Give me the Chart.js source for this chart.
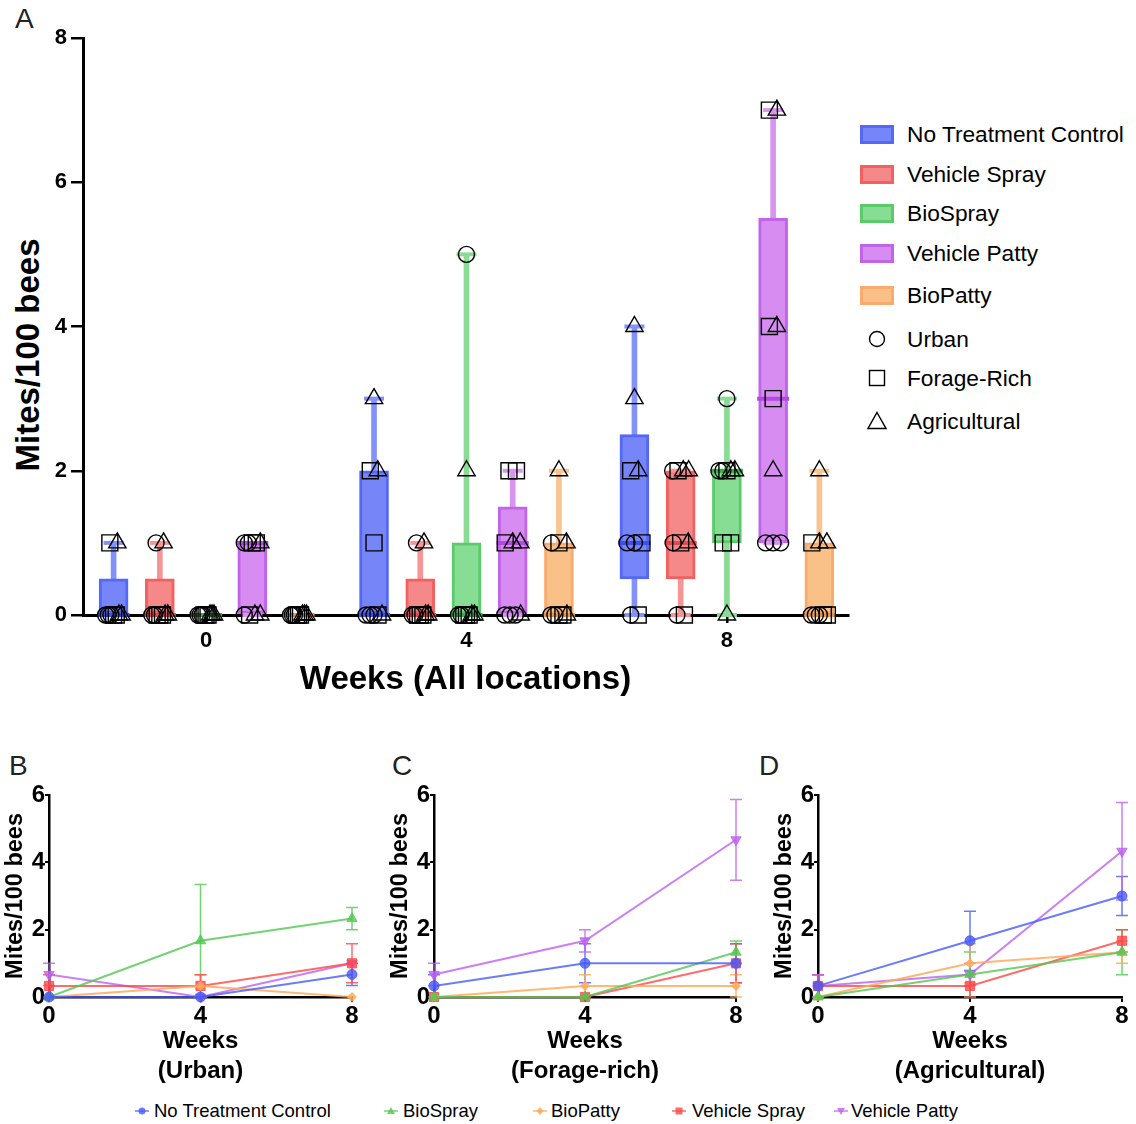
<!DOCTYPE html>
<html>
<head>
<meta charset="utf-8">
<script src="https://cdn.jsdelivr.net/npm/chart.js@4.4.1/dist/chart.umd.min.js"></script>
<style>
  html,body{margin:0;padding:0;background:#fff;}
  body{width:1136px;height:1124px;position:relative;overflow:hidden;font-family:"Liberation Sans",Arial,Helvetica,sans-serif;color:#000;}
  canvas{position:absolute;}
  .panel{position:absolute;font-size:28px;line-height:1;color:#222;}
  .ytitle{position:absolute;font-weight:bold;font-size:33px;white-space:nowrap;transform:translate(-50%,-50%) rotate(-90deg);line-height:1;}
  .abs{position:absolute;white-space:nowrap;line-height:1;}
</style>
</head>
<body>
<div class="panel" style="left:15px;top:5px">A</div>
<div class="panel" style="left:9px;top:752px">B</div>
<div class="panel" style="left:392px;top:752px">C</div>
<div class="panel" style="left:759px;top:752px">D</div>
<div class="ytitle" style="left:27px;top:355px">Mites/100 bees</div>
<canvas id="chartA" width="850" height="705" style="left:0;top:0"></canvas>
<canvas id="chartB" width="372" height="310" style="left:0;top:780px"></canvas>
<canvas id="chartC" width="372" height="310" style="left:385px;top:780px"></canvas>
<canvas id="chartD" width="367" height="310" style="left:769px;top:780px"></canvas>
<div id="legends"></div>
<script>
// ---------------- DATA ----------------
const weeks = [0, 4, 8];
const treatments = ['No Treatment Control', 'Vehicle Spray', 'BioSpray', 'Vehicle Patty', 'BioPatty'];
const locations = ['Urban', 'Forage-Rich', 'Agricultural'];
const locationTitles = ['(Urban)', '(Forage-rich)', '(Agricultural)'];

// Panel A box statistics: rows = treatments, columns = weeks 0, 4, 8
const boxMin    = [[0,0,0],[0,0,0],[0,0,0],[0,0,1],[0,0,0]];
const boxQ1     = [[0,0,0.5],[0,0,0.5],[0,0,1],[0,0,1],[0,0,0]];
const boxMedian = [[0,0,1],[0,0,1],[0,0,2],[1,1,3],[0,0,0]];
const boxQ3     = [[0.5,2,2.5],[0.5,0.5,2],[0,1,2],[1,1.5,5.5],[0,1,1]];
const boxMax    = [[1,3,4],[1,1,2],[0,5,3],[1,2,7],[0,2,2]];

// Individual colony counts [treatment][week][colony]
const urbanPoints = [
  [[0,0,0],[0,0,0],[1,1,0]],
  [[1,0,0],[1,0,0],[2,1,0]],
  [[0,0,0],[5,0,0],[3,2,2]],
  [[1,1,0],[0,0,0],[1,1,1]],
  [[0,0,0],[1,0,0],[0,0,0]]
];
const foragePoints = [
  [[1,0,0],[2,1,0],[2,1,0]],
  [[0,0,0],[0,0,0],[2,1,0]],
  [[0,0,0],[0,0,0],[2,1,1]],
  [[1,1,0],[2,2,1],[7,4,3]],
  [[0,0,0],[1,0,0],[1,0,0]]
];
const agriPoints = [
  [[1,0,0],[3,2,0],[4,3,2]],
  [[1,0,0],[1,0,0],[2,2,1]],
  [[0,0,0],[2,0,0],[2,2,0]],
  [[1,0,0],[1,1,0],[7,4,2]],
  [[0,0,0],[2,1,0],[2,1,1]]
];

// Panels B-D: mean and SEM, rows = treatments, columns = weeks
const urbanMean  = [[0,0,0.67],[0.33,0.33,1],[0,1.67,2.33],[0.67,0,1],[0,0.33,0]];
const urbanSem   = [[0,0,0.33],[0.33,0.33,0.58],[0,1.67,0.33],[0.33,0,0],[0,0.33,0]];
const forageMean = [[0.33,1,1],[0,0,1],[0,0,1.33],[0.67,1.67,4.67],[0,0.33,0.33]];
const forageSem  = [[0.33,0.58,0.58],[0,0,0.58],[0,0,0.33],[0.33,0.33,1.2],[0,0.33,0.33]];
const agriMean   = [[0.33,1.67,3],[0.33,0.33,1.67],[0,0.67,1.33],[0.33,0.67,4.33],[0,1,1.33]];
const agriSem    = [[0.33,0.88,0.58],[0.33,0.33,0.33],[0,0.67,0.67],[0.33,0.33,1.45],[0,0.58,0.33]];

// ---------------- STYLE ----------------
const boxFill      = ['#7686f8','#f58888','#86dd93','#d68cf0','#f9c088'];
const boxBorder    = ['#5468f5','#f26060','#5acb6a','#c264ea','#f8ab6c'];
const whiskerColor = ['#8292f8','#f59595','#8adc95','#d994f0','#f9c48f'];
const medianColor  = ['#3d50e6','#e24a4a','#3aaa4c','#b04ae0','#e8944e'];
const lineColor    = ['rgba(70,90,250,0.8)','rgba(255,70,70,0.8)','rgba(80,200,80,0.8)','rgba(190,95,240,0.8)','rgba(255,170,90,0.85)'];
const lineStyle    = ['circle','rect','triangle','triangle','rectRot'];
const lineRot      = [0,0,0,180,0];
const lineRadius   = [5,6.5,6,6,4.5];
const lineOrder    = [0,2,4,1,3];
const FONT = '"Liberation Sans", Arial, Helvetica, sans-serif';
Chart.defaults.font.family = FONT;
Chart.defaults.color = '#000';

// ---------------- PANEL A ----------------
const GROUP_STEP = 0.71;
const xPos = (w, t) => w + (t - 2) * GROUP_STEP;
const PX_PER_UNIT = 65.1;
const locPts = [urbanPoints, foragePoints, agriPoints];
const scatterByLoc = [[], [], []];
for (let t = 0; t < 5; t++) {
  for (let i = 0; i < 3; i++) {
    const grp = [];
    locPts.forEach((arr, l) => arr[t][i].forEach(v => grp.push({l, v})));
    const counts = {};
    grp.forEach(p => counts[p.v] = (counts[p.v] || 0) + 1);
    const seen = {};
    grp.forEach(p => {
      const n = counts[p.v];
      const k = seen[p.v] = (seen[p.v] === undefined ? 0 : seen[p.v] + 1);
      const sp = n > 1 ? Math.min(7.5, 16 / (n - 1)) / PX_PER_UNIT : 0;
      scatterByLoc[p.l].push({x: xPos(weeks[i], t) + (k - (n - 1) / 2) * sp, y: p.v});
    });
  }
}

const dsA = [];
treatments.forEach((name, t) => {
  dsA.push({type: 'bar', label: name + ' range', grouped: false, clip: false, order: 10,
    data: weeks.map((w, i) => ({x: xPos(w, t), y: [boxMin[t][i], boxMax[t][i]]})),
    barThickness: 5, backgroundColor: whiskerColor[t], borderWidth: 0});
  dsA.push({type: 'bar', label: name, grouped: false, clip: false, order: 9,
    data: weeks.map((w, i) => ({x: xPos(w, t), y: [boxQ1[t][i], boxQ3[t][i]]})),
    barThickness: 29, backgroundColor: boxFill[t], borderColor: boxBorder[t], borderWidth: 3, borderSkipped: false});
  dsA.push({type: 'scatter', label: name + ' caps', clip: false, order: 8,
    data: weeks.flatMap((w, i) => [{x: xPos(w, t), y: boxMax[t][i]}, {x: xPos(w, t), y: boxMin[t][i]}]),
    pointStyle: 'line', pointRadius: 10, pointBorderWidth: 4, pointBorderColor: whiskerColor[t], pointHoverRadius: 10});
  dsA.push({type: 'scatter', label: name + ' median', clip: false, order: 7,
    data: weeks.map((w, i) => ({x: xPos(w, t), y: boxMedian[t][i]})),
    pointStyle: 'line', pointRadius: 16, pointBorderWidth: 4, pointBorderColor: medianColor[t], pointHoverRadius: 16});
});
const locStyle = ['circle', 'rect', 'triangle'];
const locRadius = [8, 11.3, 10];
locations.forEach((loc, l) => {
  dsA.push({type: 'scatter', label: loc, clip: false, order: 1, data: scatterByLoc[l],
    pointStyle: locStyle[l], pointRadius: locRadius[l], pointHoverRadius: locRadius[l],
    pointBackgroundColor: 'rgba(0,0,0,0)', pointBorderColor: '#000', pointBorderWidth: 1.4});
});

new Chart(document.getElementById('chartA'), {
  type: 'bar',
  data: {datasets: dsA},
  options: {
    responsive: false, animation: false,
    layout: {autoPadding: false, padding: {top: 38, right: 2, left: 0, bottom: 0}},
    plugins: {legend: {display: false}, tooltip: {enabled: false}},
    scales: {
      x: {type: 'linear', min: -1.89, max: 9.86, offset: false,
        afterBuildTicks: s => { s.ticks = weeks.map(v => ({value: v})); },
        ticks: {font: {size: 22, weight: 'bold'}, color: '#000', padding: 5},
        grid: {drawOnChartArea: false, offset: false, color: '#000', lineWidth: 2.5, tickLength: 8},
        border: {color: '#000', width: 3},
        title: {display: true, text: 'Weeks (All locations)', font: {size: 33, weight: 'bold'}, color: '#000', padding: {top: 0, bottom: 5}},
        afterFit: s => { s.height = 90; }
      },
      y: {min: 0, max: 8,
        ticks: {stepSize: 2, font: {size: 22, weight: 'bold'}, color: '#000', padding: 4},
        grid: {drawOnChartArea: false, color: '#000', lineWidth: 2.5, tickLength: 12},
        border: {color: '#000', width: 3},
        afterFit: s => { s.width = 83; }
      }
    }
  }
});

// ---------------- PANELS B-D ----------------
const errorBarPlugin = {
  id: 'errbars',
  beforeDatasetsDraw(chart) {
    const {ctx, scales: {x, y}} = chart;
    chart.data.datasets.forEach(ds => {
      if (!ds.errors) return;
      ctx.save();
      ctx.strokeStyle = ds.borderColor;
      ctx.lineWidth = 1.5;
      ds.data.forEach((pt, j) => {
        const e = ds.errors[j];
        if (!e) return;
        const px = x.getPixelForValue(pt.x);
        const y1 = y.getPixelForValue(pt.y - e), y2 = y.getPixelForValue(pt.y + e);
        ctx.beginPath();
        ctx.moveTo(px, y1); ctx.lineTo(px, y2);
        ctx.moveTo(px - 6, y1); ctx.lineTo(px + 6, y1);
        ctx.moveTo(px - 6, y2); ctx.lineTo(px + 6, y2);
        ctx.stroke();
      });
      ctx.restore();
    });
  }
};

function makeLineChart(id, means, sems, title, padRight) {
  const datasets = lineOrder.map(t => ({
    type: 'line', label: treatments[t],
    data: weeks.map((w, i) => ({x: w, y: means[t][i]})),
    errors: sems[t],
    borderColor: lineColor[t], backgroundColor: lineColor[t],
    pointBackgroundColor: lineColor[t], pointBorderColor: lineColor[t],
    borderWidth: 2, pointStyle: lineStyle[t], pointRotation: lineRot[t],
    pointRadius: lineRadius[t], pointHoverRadius: lineRadius[t], pointBorderWidth: 1,
    tension: 0, clip: false
  }));
  new Chart(document.getElementById(id), {
    type: 'line',
    data: {datasets},
    options: {
      responsive: false, animation: false,
      layout: {autoPadding: false, padding: {top: 15, right: padRight, left: 0, bottom: 0}},
      plugins: {legend: {display: false}, tooltip: {enabled: false}},
      scales: {
        x: {type: 'linear', min: 0, max: 8,
          ticks: {stepSize: 4, font: {size: 24, weight: 'bold'}, color: '#000', padding: 0},
          grid: {drawOnChartArea: false, color: '#000', lineWidth: 2, tickLength: 5},
          border: {color: '#000', width: 2.5},
          title: {display: true, text: ['Weeks', title], font: {size: 24, weight: 'bold', lineHeight: 1.25}, color: '#000', padding: {top: 0, bottom: 4}},
          afterFit: s => { s.height = 93; }
        },
        y: {min: 0, max: 6,
          ticks: {stepSize: 2, font: {size: 24, weight: 'bold'}, color: '#000', padding: 0},
          grid: {drawOnChartArea: false, color: '#000', lineWidth: 2, tickLength: 4},
          border: {color: '#000', width: 2.5},
          title: {display: true, text: 'Mites/100 bees', font: {size: 23.5, weight: 'bold'}, color: '#000', padding: {top: 1, bottom: 0}},
          afterFit: s => { s.width = 49; }
        }
      }
    },
    plugins: [errorBarPlugin]
  });
}
makeLineChart('chartB', urbanMean, urbanSem, locationTitles[0], 20);
makeLineChart('chartC', forageMean, forageSem, locationTitles[1], 21);
makeLineChart('chartD', agriMean, agriSem, locationTitles[2], 14);

// ---------------- LEGENDS ----------------
const leg = document.getElementById('legends');
const legAY = [134, 174, 213, 253, 295, 339, 378, 421];
treatments.forEach((name, t) => {
  const sw = document.createElement('div');
  sw.className = 'abs';
  Object.assign(sw.style, {left: '860px', top: (legAY[t] - 9.5) + 'px', width: '34px', height: '19px', boxSizing: 'border-box',
    border: '3px solid ' + boxBorder[t], background: boxFill[t]});
  leg.appendChild(sw);
  const tx = document.createElement('div');
  tx.className = 'abs';
  Object.assign(tx.style, {left: '907px', top: (legAY[t] - 12) + 'px', fontSize: '22.7px', lineHeight: '24px'});
  tx.textContent = name;
  leg.appendChild(tx);
});
const locSvg = [
  '<circle cx="10" cy="10" r="7.5" fill="none" stroke="#000" stroke-width="1.4"/>',
  '<rect x="2.5" y="2.5" width="15" height="15" fill="none" stroke="#000" stroke-width="1.4"/>',
  '<polygon points="10,1.5 19,17.5 1,17.5" fill="none" stroke="#000" stroke-width="1.4"/>'
];
locations.forEach((name, l) => {
  const y = legAY[5 + l];
  const s = document.createElement('div');
  s.className = 'abs';
  Object.assign(s.style, {left: '867px', top: (y - 10) + 'px'});
  s.innerHTML = '<svg width="20" height="20">' + locSvg[l] + '</svg>';
  leg.appendChild(s);
  const tx = document.createElement('div');
  tx.className = 'abs';
  Object.assign(tx.style, {left: '907px', top: (y - 12) + 'px', fontSize: '22.7px', lineHeight: '24px'});
  tx.textContent = name;
  leg.appendChild(tx);
});

// bottom legend
const botMarkerX = [142, 391, 540, 679, 841];
const botTextX = [154, 403, 551, 692, 851];
const markerSvg = {
  circle: c => `<circle cx="8" cy="7" r="3.5" fill="${c}"/>`,
  triangle: c => `<polygon points="8,3 12,10 4,10" fill="${c}"/>`,
  rectRot: c => `<polygon points="8,3 11.5,7 8,11 4.5,7" fill="${c}"/>`,
  rect: c => `<rect x="4.5" y="3.5" width="7" height="7" fill="${c}"/>`,
  tri180: c => `<polygon points="4,4 12,4 8,11" fill="${c}"/>`
};
lineOrder.forEach((t, k) => {
  const key = lineRot[t] === 180 ? 'tri180' : lineStyle[t];
  const m = document.createElement('div');
  m.className = 'abs';
  Object.assign(m.style, {left: (botMarkerX[k] - 8) + 'px', top: '1104px'});
  m.innerHTML = `<svg width="16" height="14"><line x1="1" y1="7" x2="15" y2="7" stroke="${lineColor[t]}" stroke-width="1.5"/>${markerSvg[key](lineColor[t])}</svg>`;
  leg.appendChild(m);
  const tx = document.createElement('div');
  tx.className = 'abs';
  Object.assign(tx.style, {left: botTextX[k] + 'px', top: '1101px', fontSize: '18.5px', lineHeight: '20px'});
  tx.textContent = treatments[t];
  leg.appendChild(tx);
});
</script>
</body>
</html>
